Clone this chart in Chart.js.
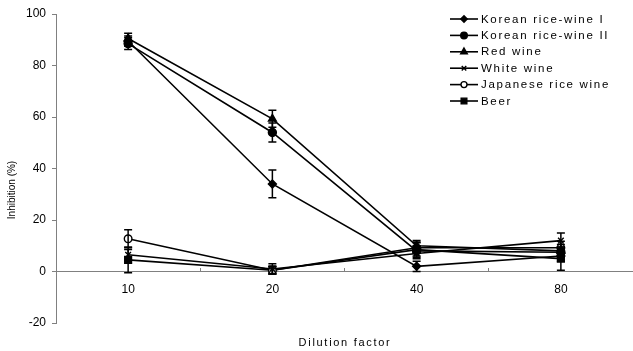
<!DOCTYPE html>
<html>
<head>
<meta charset="utf-8">
<script src="https://cdn.jsdelivr.net/npm/chart.js@4/dist/chart.umd.min.js"></script>
<style>
  html, body { margin: 0; padding: 0; background: #fff; }
  #wrap { width: 633px; height: 351px; }
</style>
</head>
<body>
<div id="wrap"><canvas id="c" width="633" height="351"></canvas></div>
<script>
// Dilution factors on the x axis
const dilutions = ['10', '20', '40', '80'];

// Inhibition (%) means per sample
const koreanRiceWineI   = [89.5, 34.0, 2.0, 6.0];
const koreanRiceWineII  = [88.5, 54.0, 8.0, 7.5];
const redWine           = [90.5, 59.3, 10.0, 8.0];
const whiteWine         = [6.5, 1.0, 7.0, 12.0];
const japaneseRiceWine  = [12.7, 0.5, 9.2, 9.2];
const beer              = [4.5, 0.5, 8.5, 5.0];

// Standard deviations (error bars)
const koreanRiceWineIErr  = [2.0, 5.4, 2.0, 2.0];
const koreanRiceWineIIErr = [2.3, 3.7, 2.0, 2.0];
const redWineErr          = [2.0, 3.3, 2.0, 2.5];
const whiteWineErr        = [2.0, 2.0, 2.0, 3.0];
const japaneseRiceWineErr = [3.5, 1.5, 2.0, 2.5];
const beerErr             = [5.0, 1.5, 3.0, 4.5];

// Y axis tick range
const yMin = -20, yMax = 100, yStep = 20;

const seriesNames = ['Korean rice-wine I', 'Korean rice-wine II', 'Red wine', 'White wine', 'Japanese rice wine', 'Beer'];
const seriesValues = [koreanRiceWineI, koreanRiceWineII, redWine, whiteWine, japaneseRiceWine, beer];
const seriesErrors = [koreanRiceWineIErr, koreanRiceWineIIErr, redWineErr, whiteWineErr, japaneseRiceWineErr, beerErr];
const markerStyles = ['rectRot', 'circle', 'triangle', 'crossRot', 'circle', 'rect'];
const markerFills  = ['#000', '#000', '#000', '#000', '#fff', '#000'];
const markerSizes  = [4, 4, 4.5, 4, 3.8, 4.8];
const legendSizes  = [3.2, 3.3, 3.8, 3.2, 3.0, 4.0];

const FONT = "'Liberation Sans', Arial, sans-serif";

const datasets = seriesNames.map((name, i) => ({
  label: name,
  data: seriesValues[i],
  errors: seriesErrors[i],
  legendRadius: legendSizes[i],
  borderColor: '#000',
  borderWidth: 1.6,
  backgroundColor: markerFills[i],
  pointStyle: markerStyles[i],
  pointRadius: markerSizes[i],
  pointBorderColor: '#000',
  pointBackgroundColor: markerFills[i],
  pointBorderWidth: 1.4,
  tension: 0,
  fill: false,
  clip: false
}));

// Vertical error bars with caps
const errorBars = {
  id: 'errorBars',
  afterDatasetsDraw(chart) {
    const ctx = chart.ctx;
    const ys = chart.scales.y;
    ctx.save();
    ctx.strokeStyle = '#000';
    ctx.lineWidth = 1.5;
    chart.data.datasets.forEach((ds, di) => {
      const meta = chart.getDatasetMeta(di);
      meta.data.forEach((pt, j) => {
        const v = ds.data[j], e = ds.errors[j];
        const x = pt.x;
        const yTop = ys.getPixelForValue(v + e);
        const yBot = ys.getPixelForValue(v - e);
        ctx.beginPath();
        ctx.moveTo(x, yTop); ctx.lineTo(x, yBot);
        ctx.moveTo(x - 4, yTop); ctx.lineTo(x + 4, yTop);
        ctx.moveTo(x - 4, yBot); ctx.lineTo(x + 4, yBot);
        ctx.stroke();
      });
    });
    ctx.restore();
  }
};

// Legend inside the plot and the two axis titles
const annotations = {
  id: 'annotations',
  afterDraw(chart) {
    const ctx = chart.ctx;
    ctx.save();
    // legend
    ctx.font = '11.5px ' + FONT;
    ctx.letterSpacing = '1.7px';
    ctx.textBaseline = 'middle';
    ctx.textAlign = 'left';
    chart.data.datasets.forEach((ds, i) => {
      const y = 19 + i * 16.4;
      ctx.strokeStyle = '#000';
      ctx.lineWidth = 1.6;
      ctx.beginPath();
      ctx.moveTo(450, y); ctx.lineTo(478, y);
      ctx.stroke();
      ctx.fillStyle = ds.pointBackgroundColor;
      ctx.lineWidth = ds.pointBorderWidth;
      Chart.helpers.drawPoint(ctx, {
        pointStyle: ds.pointStyle, radius: ds.legendRadius, rotation: 0, borderWidth: ds.pointBorderWidth
      }, 464, y);
      ctx.fillStyle = '#000';
      ctx.fillText(ds.label, 481, y + 0.5);
    });
    // x axis title
    ctx.font = '11px ' + FONT;
    ctx.letterSpacing = '1.7px';
    ctx.textAlign = 'center';
    ctx.fillText('Dilution factor', 345, 343);
    // y axis title
    ctx.letterSpacing = '0px';
    ctx.font = '10px ' + FONT;
    ctx.translate(12, 190);
    ctx.rotate(-Math.PI / 2);
    ctx.fillText('Inhibition (%)', 0, 0);
    ctx.restore();
  }
};

new Chart(document.getElementById('c'), {
  type: 'line',
  data: { labels: dilutions, datasets },
  options: {
    responsive: false,
    animation: false,
    devicePixelRatio: 1,
    layout: { autoPadding: false, padding: { top: 14, right: -1, bottom: 28, left: 0 } },
    plugins: { legend: { display: false }, tooltip: { enabled: false } },
    scales: {
      x: {
        type: 'category',
        offset: true,
        position: { y: 0 },
        afterFit(scale) { scale.paddingLeft = 0; scale.paddingRight = 0; },
        grid: { offset: true, drawOnChartArea: false, tickLength: -4, color: '#808080', tickWidth: 1 },
        border: { color: '#808080', width: 1 },
        ticks: { color: '#000', font: { family: FONT, size: 12 }, padding: 15, maxRotation: 0 }
      },
      y: {
        min: yMin, max: yMax,
        afterFit(scale) { scale.width = 56; },
        ticks: { stepSize: yStep, color: '#000', font: { family: FONT, size: 12 }, padding: 6 },
        grid: { drawOnChartArea: false, tickLength: 4, color: '#808080' },
        border: { color: '#808080', width: 1 }
      }
    }
  },
  plugins: [errorBars, annotations]
});
</script>
</body>
</html>
